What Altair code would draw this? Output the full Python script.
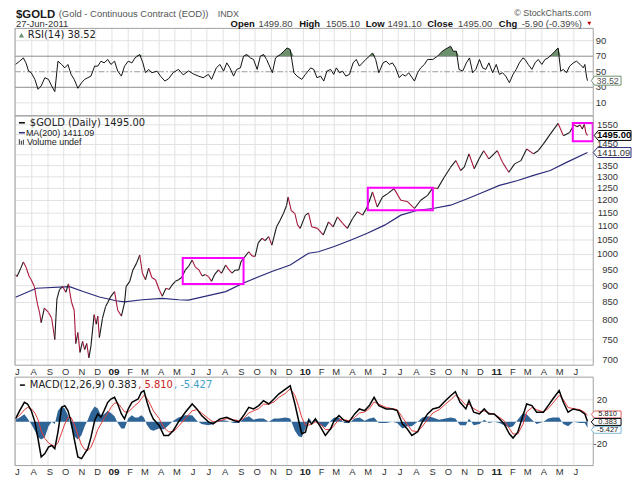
import altair as alt
import pandas as pd

# ---------------- values ----------------
price_dates = [
    "2008-07-01","2008-07-04","2008-07-10","2008-07-16","2008-07-21","2008-07-27","2008-07-31",
    "2008-08-06","2008-08-12","2008-08-16","2008-08-19","2008-08-25",
    "2008-09-02","2008-09-08","2008-09-14","2008-09-18","2008-09-23","2008-09-29",
    "2008-10-05","2008-10-10","2008-10-16","2008-10-21","2008-10-24","2008-10-28",
    "2008-11-01","2008-11-06","2008-11-10","2008-11-14","2008-11-18","2008-11-22","2008-11-28",
    "2008-12-02","2008-12-05","2008-12-08","2008-12-14","2008-12-20","2008-12-24","2008-12-30",
    "2009-01-06","2009-01-12","2009-01-19","2009-01-25","2009-01-28",
    "2009-02-04","2009-02-10","2009-02-17","2009-02-23","2009-02-28",
    "2009-03-06","2009-03-12","2009-03-18","2009-03-25",
    "2009-04-01","2009-04-07","2009-04-14","2009-04-20","2009-04-26",
    "2009-05-02","2009-05-08","2009-05-14","2009-05-21","2009-05-27",
    "2009-06-03","2009-06-09","2009-06-16","2009-06-22","2009-06-28",
    "2009-07-04","2009-07-10","2009-07-16","2009-07-23","2009-07-29",
    "2009-08-06","2009-08-12","2009-08-18","2009-08-24","2009-08-31",
    "2009-09-04","2009-09-09","2009-09-19","2009-09-25",
    "2009-10-01","2009-10-07","2009-10-14","2009-10-20","2009-10-27",
    "2009-11-02","2009-11-11","2009-11-17","2009-11-24","2009-11-30",
    "2009-12-03","2009-12-09","2009-12-16","2009-12-21","2009-12-26",
    "2010-01-05","2010-01-11","2010-01-17","2010-01-28",
    "2010-02-08","2010-02-18","2010-02-27",
    "2010-03-07","2010-03-17","2010-03-26",
    "2010-04-05","2010-04-14","2010-04-24",
    "2010-05-03","2010-05-13","2010-05-22",
    "2010-06-01","2010-06-11","2010-06-23",
    "2010-07-06","2010-07-18",
    "2010-08-01","2010-08-13","2010-08-26",
    "2010-09-05","2010-09-14","2010-09-27",
    "2010-10-09","2010-10-19","2010-10-28",
    "2010-11-04","2010-11-13","2010-11-23",
    "2010-12-02","2010-12-11","2010-12-21",
    "2011-01-06","2011-01-16","2011-01-28",
    "2011-02-08","2011-02-20",
    "2011-03-03","2011-03-16","2011-03-25",
    "2011-04-04","2011-04-17",
    "2011-05-02","2011-05-12","2011-05-24",
    "2011-06-01","2011-06-07","2011-06-13","2011-06-17","2011-06-21","2011-06-24","2011-06-27",
]
price_vals = [
    934, 928, 950, 975, 958, 929, 918,
    897, 845, 821, 794, 834,
    822, 806, 750, 860, 888, 897,
    880, 905, 850, 828, 740, 768,
    718, 745, 725, 740, 705, 734, 816,
    790, 812, 755, 806, 839, 850, 868,
    882, 828, 812, 849, 897,
    913, 949, 971, 998, 939,
    918, 955, 925, 918,
    888, 868, 892, 888, 902,
    913, 918, 925, 949, 960,
    981, 958, 949, 930, 934,
    928, 913, 935, 949, 938,
    965, 950, 939, 948, 949,
    975, 987, 1009, 995,
    993, 1040, 1056, 1048, 1062,
    1032, 1098, 1120, 1148, 1180,
    1214, 1160, 1148, 1105, 1092,
    1142, 1150, 1098, 1092,
    1068, 1116, 1098,
    1135, 1111, 1092,
    1129, 1155, 1142,
    1174, 1235, 1174,
    1214, 1228, 1249,
    1201, 1196,
    1168, 1201, 1221,
    1253, 1249, 1299,
    1343, 1373, 1328,
    1343, 1405, 1336,
    1381, 1420, 1381,
    1420, 1365, 1320,
    1358, 1373,
    1428, 1405, 1420,
    1453, 1502,
    1557, 1494, 1510,
    1550, 1540, 1549, 1528, 1552, 1508, 1495.00,
]

ma_dates = [
    "2008-07-01","2008-08-10","2008-10-12","2008-11-07","2008-12-08","2009-01-09","2009-01-25",
    "2009-02-28","2009-04-07","2009-05-08","2009-05-27","2009-08-06","2009-09-09","2009-11-02",
    "2009-12-07","2010-01-11","2010-01-30","2010-03-01","2010-04-02","2010-05-03","2010-06-05",
    "2010-07-06","2010-08-07","2010-09-05","2010-10-09","2010-11-11","2010-12-11","2011-01-10",
    "2011-02-14","2011-03-16","2011-04-17","2011-05-18","2011-06-27",
]
ma_vals = [
    865, 892, 897, 882, 866, 855, 852,
    858, 862, 858, 857, 882, 908, 944,
    965, 1004, 1009, 1027, 1050, 1074, 1104,
    1142, 1161, 1168, 1181, 1208, 1235, 1263,
    1284, 1306, 1328, 1365, 1411.09,
]

rsi_dates = [
    "2008-07-01","2008-07-09","2008-07-16","2008-07-21","2008-07-26","2008-07-31",
    "2008-08-07","2008-08-13","2008-08-19","2008-08-26",
    "2008-09-02","2008-09-08","2008-09-14","2008-09-20","2008-09-27",
    "2008-10-03","2008-10-09","2008-10-15","2008-10-21","2008-10-28",
    "2008-11-04","2008-11-10","2008-11-16","2008-11-22","2008-11-29",
    "2008-12-05","2008-12-11","2008-12-17","2008-12-24","2008-12-30",
    "2009-01-06","2009-01-12","2009-01-19","2009-01-25",
    "2009-02-01","2009-02-08","2009-02-14","2009-02-23",
    "2009-03-01","2009-03-06","2009-03-12","2009-03-18","2009-03-28",
    "2009-04-04","2009-04-12","2009-04-19","2009-04-28",
    "2009-05-08","2009-05-17","2009-05-27",
    "2009-06-06","2009-06-15","2009-06-24",
    "2009-07-04","2009-07-10","2009-07-19","2009-07-26",
    "2009-08-02","2009-08-08","2009-08-14","2009-08-21","2009-08-27",
    "2009-09-03","2009-09-09","2009-09-15","2009-09-22","2009-09-28",
    "2009-10-05","2009-10-11","2009-10-17","2009-10-23",
    "2009-11-03","2009-11-09","2009-11-18","2009-11-25",
    "2009-12-01","2009-12-07","2009-12-14","2009-12-20","2009-12-29",
    "2010-01-05","2010-01-15","2010-01-21","2010-01-27",
    "2010-02-03","2010-02-09","2010-02-15","2010-02-22","2010-02-28",
    "2010-03-05","2010-03-11","2010-03-17","2010-03-23","2010-03-30",
    "2010-04-06","2010-04-12","2010-04-18","2010-04-24","2010-04-30",
    "2010-05-07","2010-05-13","2010-05-19","2010-05-25",
    "2010-06-02","2010-06-08","2010-06-14","2010-06-20","2010-06-26",
    "2010-07-03","2010-07-09","2010-07-15","2010-07-21",
    "2010-08-01","2010-08-07","2010-08-13","2010-08-20","2010-08-26",
    "2010-09-05","2010-09-14","2010-09-23",
    "2010-10-03","2010-10-09","2010-10-14","2010-10-20","2010-10-25",
    "2010-11-01","2010-11-08","2010-11-14","2010-11-20","2010-11-26",
    "2010-12-03","2010-12-09","2010-12-15","2010-12-21","2010-12-28",
    "2011-01-04","2011-01-10","2011-01-16","2011-01-22","2011-01-29",
    "2011-02-05","2011-02-11","2011-02-17","2011-02-24","2011-02-28",
    "2011-03-06","2011-03-13","2011-03-19","2011-03-25",
    "2011-04-01","2011-04-07","2011-04-13","2011-04-20","2011-04-26",
    "2011-05-02","2011-05-07","2011-05-12","2011-05-18","2011-05-24","2011-05-31",
    "2011-06-06","2011-06-13","2011-06-19","2011-06-22","2011-06-25","2011-06-27",
]
rsi_vals = [
    59.4, 63.6, 67.8, 61.4, 50.8, 48.7,
    40.2, 27.4, 31.7, 42.3,
    40.2, 31.7, 24.4, 63.6, 59.4,
    55, 59.4, 46.6, 40.2, 28.7,
    35.9, 40.2, 42.3, 44.4, 57.2,
    57.2, 63.6, 61.4, 65.8, 59.4,
    63.6, 50.8, 44.4, 57.2,
    63.6, 61.4, 67.8, 72.2,
    61.4, 48.7, 53, 48.7, 50.8,
    44, 38, 41, 49,
    53, 46, 51,
    47, 44.4, 42.3,
    46.6, 40.2, 55, 59.4,
    50.8, 61.4, 55, 44.4, 53,
    55, 70, 72.2, 67.8, 65.8,
    53, 70, 72.2, 65.8,
    48.7, 67.8, 72.2, 76.4,
    80.6, 78.6, 48.7, 44.4, 40.2,
    46.6, 55, 53, 42.3,
    44.4, 38, 50.8, 53, 46.6,
    55, 48.7, 50.8, 44.4, 46.6,
    61.4, 65.8, 57.2, 61.4, 65.8,
    70, 74.2, 65.8, 48.7,
    61.4, 63.6, 59.4, 61.4, 55,
    42.3, 46.6, 44.4, 48.7,
    38, 48.7, 55, 59.4, 65.8,
    65.8, 70, 76.4,
    80.6, 82.8, 76.4, 76.4, 53,
    50.8, 61.4, 67.8, 48.7, 53,
    65.8, 55, 53, 61.4, 48.7,
    59.4, 46.6, 48.7, 44.4, 35.9,
    46.6, 53, 61.4, 67.8, 65.8,
    59.4, 53, 61.4, 65.8,
    59.4, 65.8, 67.8, 72.2, 76.4,
    80.6, 50.8, 53, 48.7, 57.2, 61.4,
    63.6, 59.4, 55, 59.4, 44.4, 38.52,
]

macd_dates = [
    "2008-07-01","2008-07-09","2008-07-18","2008-07-24","2008-07-31",
    "2008-08-07","2008-08-13","2008-08-19","2008-08-26",
    "2008-09-02","2008-09-08","2008-09-14","2008-09-20","2008-09-27",
    "2008-10-03","2008-10-09","2008-10-15","2008-10-21","2008-10-28",
    "2008-11-04","2008-11-10","2008-11-16","2008-11-22","2008-11-29",
    "2008-12-05","2008-12-11","2008-12-17","2008-12-24","2008-12-30",
    "2009-01-06","2009-01-12","2009-01-19","2009-01-25",
    "2009-02-01","2009-02-08","2009-02-14","2009-02-20","2009-02-26",
    "2009-03-03","2009-03-09","2009-03-15","2009-03-21",
    "2009-04-01","2009-04-10","2009-04-19","2009-04-28",
    "2009-05-08","2009-05-21",
    "2009-06-03","2009-06-12","2009-06-21",
    "2009-07-04","2009-07-13","2009-07-26",
    "2009-08-08","2009-08-21","2009-08-31",
    "2009-09-09","2009-09-19","2009-09-28",
    "2009-10-08","2009-10-17","2009-10-27",
    "2009-11-06","2009-11-15","2009-11-28",
    "2009-12-07","2009-12-16","2009-12-23","2009-12-29",
    "2010-01-05","2010-01-11","2010-01-17","2010-01-24",
    "2010-02-03","2010-02-12","2010-02-22",
    "2010-03-01","2010-03-10","2010-03-20","2010-03-29",
    "2010-04-09","2010-04-18","2010-04-28",
    "2010-05-07","2010-05-16","2010-05-25",
    "2010-06-08","2010-06-20","2010-06-29",
    "2010-07-09","2010-07-18","2010-07-27",
    "2010-08-07","2010-08-16","2010-08-26",
    "2010-09-05","2010-09-17","2010-09-29",
    "2010-10-09","2010-10-18","2010-10-27",
    "2010-11-07","2010-11-13","2010-11-22",
    "2010-12-03","2010-12-12","2010-12-21","2010-12-31",
    "2011-01-10","2011-01-19","2011-01-29",
    "2011-02-05","2011-02-14","2011-02-24",
    "2011-03-03","2011-03-13","2011-03-22",
    "2011-04-04","2011-04-13","2011-04-22",
    "2011-05-04","2011-05-12","2011-05-21","2011-05-31",
    "2011-06-13","2011-06-22","2011-06-27",
]
macd_vals = [
    2.7, 10.2, 17.7, 16.2, 10.2,
    0, -15.3, -31.8, -28.8,
    -22.8, -21.4, -24.3, -9.3, 13.2,
    14.7, 10.2, 0, -15.3, -31.8,
    -33.3, -28.8, -24.3, -13.8, 1.2,
    7.2, 4.2, 10.2, 17.7, 20.7,
    22.2, 16.2, 7.2, 2.7,
    11.7, 17.7, 19.2, 20.7, 26.8,
    28.3, 17.7, 8.7, 2.5,
    -3.3, -12.3, -12.3, -7.8,
    0, 8.7,
    16.2, 11.7, 5.7,
    0, -1.8, 2.7,
    4.2, 1.2, 0,
    5.7, 13.2, 11.7,
    14.7, 19.2, 16.2,
    20.7, 25.2, 29.7,
    32.7, 16.2, 1.2, -10.8,
    -9.3, 1.2, -1.8, 2.7,
    -4.8, -12.3, -6.3,
    1.2, 5.7, 1.2, 0,
    7.2, 11.7, 10.2,
    14.7, 22.2, 14.7,
    11.7, 11.7, 10.2,
    -1.8, -6.3, -12.3,
    -9, 0, 7.2,
    11.7, 13.2, 19.2,
    23.7, 27.3, 17.7,
    11.7, 19.2, 8.7,
    7.2, 11.7, 7.2, 7.2,
    2.7, -1.8, -10.8,
    -14.7, -9.3, 5.7,
    16.2, 14.7, 8.7,
    8.7, 14.7, 20.7,
    28.3, 17.7, 8.7, 11.7,
    10.2, 7.2, 0.383,
]
signal_vals = [
    3, 6, 11, 13, 12,
    8, 2, -8, -15,
    -19, -21, -22, -19, -10,
    -2, 4, 4, -2, -12,
    -21, -25, -26, -23, -15,
    -7, -2, 3, 8, 13,
    17, 17, 13, 9,
    9, 12, 15, 17, 21,
    24, 21, 16, 10,
    3, -5, -9, -9,
    -4, 3,
    10, 11, 8,
    3, 0, 1,
    3, 2, 1,
    3, 8, 10,
    12, 16, 16,
    18, 22, 26,
    30, 24, 14, 4,
    -3, -3, -2, 0,
    -2, -7, -7,
    -3, 2, 2, 1,
    4, 8, 9,
    12, 18, 16,
    13, 12, 11,
    4, -2, -8,
    -9, -4, 2,
    8, 11, 16,
    20, 24, 21,
    15, 16, 12,
    9, 10, 8, 7,
    4, 1, -6,
    -11, -11, -2,
    9, 13, 11,
    9, 12, 17,
    24, 20, 13, 12,
    11, 8.5, 5.810,
]
hist_vals = [
    2, 4, 7, 3, -2,
    -8, -14, -16, -14,
    -4, 0, -2, 10, 14,
    12, 6, -4, -13, -16,
    -12, -4, 2, 9, 14,
    12, 6, 7, 10, 8,
    5, -1, -6, -6,
    3, 6, 4, 4, 6,
    4, -3, -7, -8,
    -6, -7, -3, 1,
    4, 6,
    6, 1, -2,
    -3, -2, 2,
    1, -1, -1,
    3, 5, 2,
    3, 3, 0,
    3, 3, 4,
    3, -8, -13, -14,
    -6, 4, 0, 3,
    -3, -5, 1,
    4, 4, -1, -1,
    3, 4, 1,
    3, 4, -1,
    -1, 0, -1,
    -6, -4, -4,
    0, 4, 5,
    4, 2, 3,
    4, 3, -3,
    -3, 3, -3,
    -2, 2, -1, 0,
    -1, -3, -5,
    -4, 2, 8,
    7, 2, -2,
    0, 3, 4,
    4, -2, -4, 0,
    -1, -1, -5.427,
]

box_start = ["2009-05-16", "2010-05-04", "2011-05-30"]
box_end = ["2009-09-09", "2010-09-05", "2011-07-07"]
box_low = [905, 1161, 1466]
box_high = [988, 1253, 1559]

month_labels = ["J","A","S","O","N","D","09","F","M","A","M","J",
                "J","A","S","O","N","D","10","F","M","A","M","J",
                "J","A","S","O","N","D","11","F","M","A","M","J"]
price_ticks = [700, 750, 800, 850, 900, 950, 1000, 1050, 1100, 1150, 1200,
               1250, 1300, 1350, 1400, 1450, 1500, 1550]
price_tick_labels = [700, 750, 800, 850, 900, 950, 1000, 1050, 1100, 1150, 1200,
                     1250, 1300, 1350, 1450, 1550]
rsi_ticks = [10, 30, 50, 70, 90]
rsi_levels = [30, 70]
rsi_mid = [50]
macd_ticks = [-20, 20]
open_v, high_v, low_v, chg_v, chg_pct = 1499.80, 1505.10, 1491.10, -5.90, -0.39

# ---------------- scales (pixel layout of the three panels) ----------------
L, R = 7, 589
X = alt.Scale(domain=[alt.DateTime(year=2008, month=6, date=30),
                      alt.DateTime(year=2011, month=7, date=8)],
              range=[L, R], nice=False)
RSI_T, RSI_B = 19, 107
PX_T, PX_B = 107, 358
MC_T, MC_B = 370, 459
Y_RSI = alt.Scale(domain=[-6.7, 105.8], range=[RSI_B, RSI_T], nice=False, zero=False)
Y_PX = alt.Scale(type="log", domain=[687.6, 1597.6], range=[PX_B, PX_T], nice=False)
Y_MC = alt.Scale(domain=[-39.6, 40.5], range=[MC_B, MC_T], nice=False, zero=False)

GRID = "#e2e2e2"
dummy = pd.DataFrame({"k": [0]})


def txt(s, x, y, size=9.5, color="#333", weight="normal", align="left",
        font="Liberation Sans", baseline="middle"):
    return alt.Chart(dummy).mark_text(
        text=s, fontSize=size, color=color, fontWeight=weight, align=align,
        font=font, baseline=baseline).encode(x=alt.value(x), y=alt.value(y))


def dash(x1, x2, y, color, w=1.5):
    return alt.Chart(dummy).mark_rule(color=color, strokeWidth=w).encode(
        x=alt.value(x1), x2=alt.value(x2), y=alt.value(y))


def frame(t, b):
    return alt.Chart(dummy).mark_rect(fillOpacity=0, stroke="#a0a0a0", strokeWidth=1).encode(
        x=alt.value(L), x2=alt.value(R), y=alt.value(t), y2=alt.value(b))


def tag(value, yscale, cx, w, h, stroke, label, tcolor="#222", weight="normal", size=9.5, off=0):
    df = pd.DataFrame({"v": [value]})
    r = h / w
    path = f"M -1 0 L -0.78 -{r:.3f} L 1 -{r:.3f} L 1 {r:.3f} L -0.78 {r:.3f} Z"
    b = alt.Chart(df).mark_point(shape=path, size=w * w, filled=True, fill="white",
                                 stroke=stroke, strokeWidth=1, opacity=1).encode(
        x=alt.value(cx), y=alt.Y("v:Q", scale=yscale, axis=None), yOffset=alt.value(off))
    t = alt.Chart(df).mark_text(text=label, fontSize=size, font="Liberation Sans",
                                fontWeight=weight, color=tcolor, align="center",
                                baseline="middle", dy=off).encode(
        x=alt.value(cx + 1.5), y=alt.Y("v:Q", scale=yscale, axis=None))
    return [b, t]


months = pd.DataFrame({"d": pd.date_range("2008-07-01", periods=len(month_labels), freq="MS"),
                       "lab": month_labels})
months["year"] = months["lab"].str.isdigit()

rsi_df = pd.DataFrame({"d": pd.to_datetime(rsi_dates), "v": rsi_vals})
ma_df = pd.DataFrame({"d": pd.to_datetime(ma_dates), "v": ma_vals})
pdf = pd.DataFrame({"d": pd.to_datetime(price_dates), "v": price_vals})
seg = pd.DataFrame({"d": pdf["d"].iloc[:-1].values, "d2": pdf["d"].iloc[1:].values,
                    "v": pdf["v"].iloc[:-1].values, "v2": pdf["v"].iloc[1:].values})
seg["c"] = ["#1a1a1a" if b >= a else "#a8183c" for a, b in zip(seg["v"], seg["v2"])]
mc_df = pd.DataFrame({"d": pd.to_datetime(macd_dates), "m": macd_vals,
                      "s": signal_vals, "h": hist_vals})
box_df = pd.DataFrame({"a": pd.to_datetime(box_start), "b": pd.to_datetime(box_end),
                       "lo": box_low, "hi": box_high})

xd = alt.X("d:T", scale=X, axis=None)
layers = []

# vertical month gridlines per panel
for t, b in [(RSI_T, RSI_B), (PX_T, PX_B), (MC_T, MC_B)]:
    layers.append(alt.Chart(months).mark_rule(color=GRID, strokeWidth=1).encode(
        x=xd, y=alt.value(t), y2=alt.value(b)))

# horizontal gridlines
layers.append(alt.Chart(pd.DataFrame({"v": price_ticks})).mark_rule(color=GRID).encode(
    y=alt.Y("v:Q", scale=Y_PX, axis=None), x=alt.value(L), x2=alt.value(R)))
layers.append(alt.Chart(pd.DataFrame({"v": [10, 90]})).mark_rule(color=GRID).encode(
    y=alt.Y("v:Q", scale=Y_RSI, axis=None), x=alt.value(L), x2=alt.value(R)))
layers.append(alt.Chart(pd.DataFrame({"v": macd_ticks})).mark_rule(color=GRID).encode(
    y=alt.Y("v:Q", scale=Y_MC, axis=None), x=alt.value(L), x2=alt.value(R)))

# RSI panel
layers.append(alt.Chart(pd.DataFrame({"v": rsi_levels})).mark_rule(color="#8c8c8c").encode(
    y=alt.Y("v:Q", scale=Y_RSI, axis=None), x=alt.value(L), x2=alt.value(R)))
layers.append(alt.Chart(pd.DataFrame({"v": rsi_mid})).mark_rule(
    color="#9a9a9a", strokeDash=[6, 2, 2, 2]).encode(
    y=alt.Y("v:Q", scale=Y_RSI, axis=None), x=alt.value(L), x2=alt.value(R)))
layers.append(alt.Chart(rsi_df).transform_calculate(
    top="max(datum.v, 70)", base="70").mark_area(color="#6d916d", opacity=1).encode(
    x=xd, y=alt.Y("top:Q", scale=Y_RSI, axis=None), y2="base:Q"))
layers.append(alt.Chart(rsi_df).mark_line(color="#111111", strokeWidth=1).encode(
    x=xd, y=alt.Y("v:Q", scale=Y_RSI, axis=None)))

# price panel
layers.append(alt.Chart(ma_df).mark_line(color="#2a2a7a", strokeWidth=1.2).encode(
    x=xd, y=alt.Y("v:Q", scale=Y_PX, axis=None)))
layers.append(alt.Chart(seg).mark_rule(strokeWidth=1.1).encode(
    x=xd, x2="d2:T", y=alt.Y("v:Q", scale=Y_PX, axis=None), y2="v2:Q",
    color=alt.Color("c:N", scale=None)))
layers.append(alt.Chart(box_df).mark_rect(fillOpacity=0, stroke="#ff00ff", strokeWidth=2).encode(
    x=alt.X("a:T", scale=X, axis=None), x2="b:T",
    y=alt.Y("lo:Q", scale=Y_PX, axis=None), y2="hi:Q"))

# MACD panel
layers.append(alt.Chart(mc_df).transform_calculate(zero="0").mark_area(
    color="#2f6497", opacity=1).encode(
    x=xd, y=alt.Y("h:Q", scale=Y_MC, axis=None), y2="zero:Q"))
layers.append(alt.Chart(mc_df).mark_line(color="#e03a3a", strokeWidth=1).encode(
    x=xd, y=alt.Y("s:Q", scale=Y_MC, axis=None)))
layers.append(alt.Chart(mc_df).mark_line(color="#000000", strokeWidth=1.5).encode(
    x=xd, y=alt.Y("m:Q", scale=Y_MC, axis=None)))

# panel frames
for t, b in [(RSI_T, RSI_B), (PX_T, PX_B), (MC_T, MC_B)]:
    layers.append(frame(t, b))

# right-hand tick labels
layers.append(alt.Chart(pd.DataFrame({"v": price_tick_labels,
                                      "t": [str(v) for v in price_tick_labels]})).mark_text(
    align="right", baseline="middle", fontSize=9.5, font="Liberation Sans", color="#333").encode(
    y=alt.Y("v:Q", scale=Y_PX, axis=None), x=alt.value(614), text="t:N"))
layers.append(alt.Chart(pd.DataFrame({"v": rsi_ticks, "t": [str(v) for v in rsi_ticks]})).mark_text(
    align="right", baseline="middle", fontSize=9.5, font="Liberation Sans", color="#333").encode(
    y=alt.Y("v:Q", scale=Y_RSI, axis=None), x=alt.value(602), text="t:N"))
layers.append(alt.Chart(pd.DataFrame({"v": macd_ticks, "t": [str(v) for v in macd_ticks]})).mark_text(
    align="right", baseline="middle", fontSize=9.5, font="Liberation Sans", color="#333").encode(
    y=alt.Y("v:Q", scale=Y_MC, axis=None), x=alt.value(603), text="t:N"))

# month labels (two rows)
for yy in (365.3, 465.3):
    layers.append(alt.Chart(months[~months["year"]]).mark_text(
        align="center", baseline="middle", dx=2, fontSize=9.5, font="Liberation Sans",
        color="#333").encode(x=xd, y=alt.value(yy), text="lab:N"))
    layers.append(alt.Chart(months[months["year"]]).mark_text(
        align="center", baseline="middle", dx=2, fontSize=10, font="Liberation Sans",
        fontWeight="bold", color="#222").encode(x=xd, y=alt.value(yy), text="lab:N"))

# header
layers += [
    txt("$GOLD", 8, 8.4, size=11.5, color="#1a1a1a", weight="bold", baseline="alphabetic"),
    txt("(Gold - Continuous Contract (EOD))", 51, 8, size=9.5, color="#555", baseline="alphabetic"),
    txt("INDX", 211, 8, size=9, color="#555", baseline="alphabetic"),
    txt("\u00a9 StockCharts.com", 587, 7, size=9, color="#555", align="right", baseline="alphabetic"),
    txt("27-Jun-2011", 8, 17.5, size=9.5, color="#333", baseline="alphabetic"),
]
ohlc = [("Open", 224, True), (f"{open_v:.2f}", 252, False), ("High", 293, True),
        (f"{high_v:.2f}", 320, False), ("Low", 360, True), (f"{low_v:.2f}", 382, False),
        ("Close", 422, True), (f"{price_vals[-1]:.2f}", 453, False), ("Chg", 494, True),
        (f"{chg_v:.2f} ({chg_pct:.2f}%)", 517, False)]
for s, x, bold in ohlc:
    layers.append(txt(s, x, 17.5, size=9.5, color="#111" if bold else "#444",
                      weight="bold" if bold else "normal", baseline="alphabetic"))
layers.append(alt.Chart(dummy).mark_point(shape="triangle-down", filled=True, color="#c00000",
                                          size=16, opacity=1).encode(x=alt.value(585), y=alt.value(14)))

# legends
layers.append(alt.Chart(dummy).mark_point(shape="triangle-up", filled=True, color="#6d916d",
                                          size=28, opacity=1).encode(x=alt.value(13.5), y=alt.value(26)))
layers.append(txt(f"RSI(14) {rsi_vals[-1]:.2f}", 20, 26, size=10, color="#222", font="DejaVu Sans"))
layers.append(dash(11, 17, 114, "#000"))
layers.append(txt(f"$GOLD (Daily) {price_vals[-1]:.2f}", 22, 114, size=10, color="#222", font="DejaVu Sans"))
layers.append(dash(11, 17, 124, "#2a2a7a"))
layers.append(txt(f"MA(200) {ma_vals[-1]:.2f}", 18, 124, size=9, color="#222"))
for xx, top in [(11.5, 130.5), (13.5, 132), (15.5, 131)]:
    layers.append(alt.Chart(dummy).mark_rule(color="#555", strokeWidth=1.2).encode(
        x=alt.value(xx), y=alt.value(top), y2=alt.value(136)))
layers.append(txt("Volume undef", 19, 133, size=9, color="#222"))
layers.append(dash(12, 17, 378, "#000"))
layers.append(txt(f"MACD(12,26,9) {macd_vals[-1]:.3f}", 22, 378, size=10, color="#222", font="DejaVu Sans"))
layers.append(txt(f", {signal_vals[-1]:.3f}", 131, 378, size=10, color="#cc2222", font="DejaVu Sans"))
layers.append(txt(f", {hist_vals[-1]:.3f}", 167, 378, size=10, color="#3fa0c8", font="DejaVu Sans"))

# value tags on the right
layers += tag(rsi_vals[-1], Y_RSI, 602, 30, 9, "#6d916d", f"{rsi_vals[-1]:.2f}", tcolor="#555", size=9)
layers += tag(ma_vals[-1], Y_PX, 608, 38, 10, "#2a2a7a", f"{ma_vals[-1]:.2f}", tcolor="#333")
layers += tag(price_vals[-1], Y_PX, 608.5, 37, 10, "#000", f"{price_vals[-1]:.2f}", tcolor="#000", weight="bold")
layers += tag(signal_vals[-1], Y_MC, 602, 30, 7, "#e06060", f"{signal_vals[-1]:.3f}", size=7.5, off=-1)
layers += tag(hist_vals[-1], Y_MC, 602, 30, 7, "#7fb8d8", f"{hist_vals[-1]:.3f}", size=7.5, off=2)
layers += tag(macd_vals[-1], Y_MC, 602, 30, 7, "#000", f"{macd_vals[-1]:.3f}", size=7.5, off=0.5)

chart = alt.layer(*layers).resolve_scale(y="independent").properties(
    width=628, height=471, padding=0, autosize="none", background="white"
).configure_view(strokeWidth=0)

chart.save("out.html", embed_options={"renderer": "svg", "actions": False})
